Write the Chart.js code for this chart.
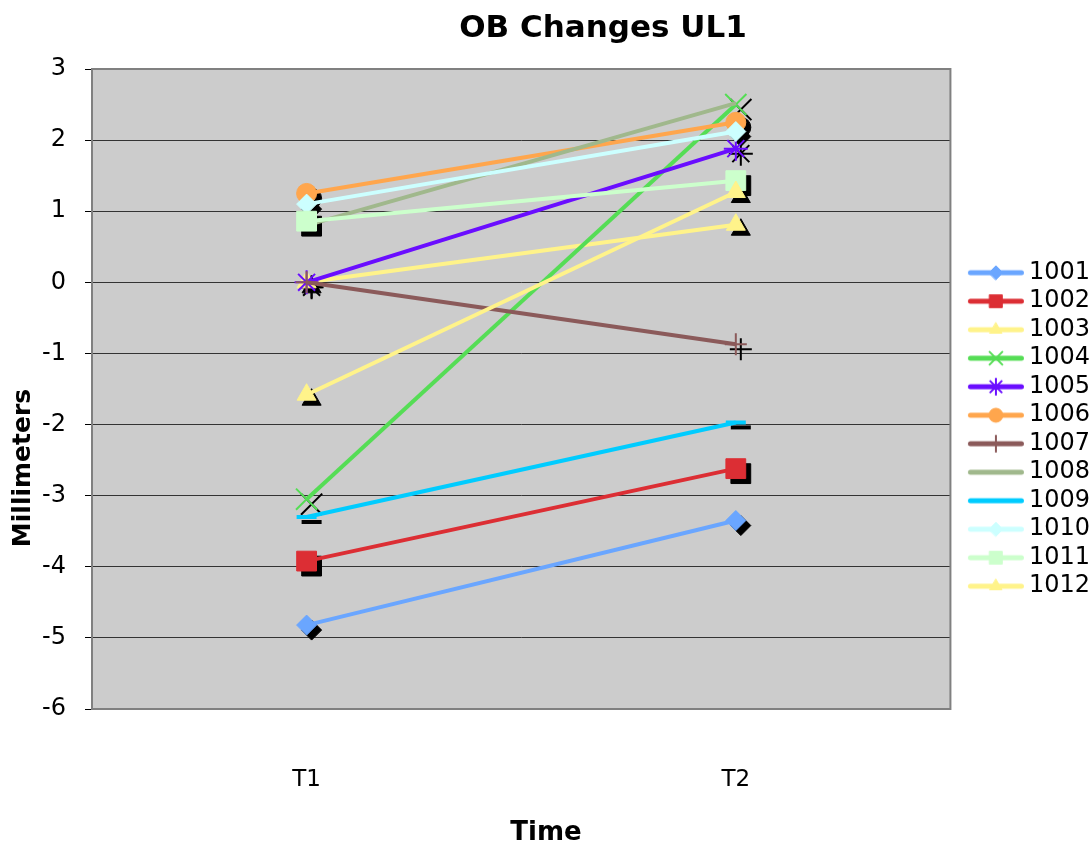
<!DOCTYPE html>
<html>
<head>
<meta charset="utf-8">
<script src="https://cdn.jsdelivr.net/npm/chart.js@4.4.1/dist/chart.umd.min.js"></script>
<style>
  html, body { margin: 0; padding: 0; background: #fff; }
  #wrap { width: 1092px; height: 846px; }
</style>
</head>
<body>
<div id="wrap"><canvas id="myChart" width="1092" height="846"></canvas></div>
<script>
// values
var categories = ['T1', 'T2'];
var s1001 = [-4.82, -3.35];
var s1002 = [-3.92, -2.62];
var s1003 = [0, 0.81];
var s1004 = [-3.05, 2.5];
var s1005 = [0, 1.88];
var s1006 = [1.25, 2.25];
var s1007 = [0, -0.87];
var s1008 = [0.8, 2.52];
var s1009 = [-3.3, -1.97];
var s1010 = [1.1, 2.12];
var s1011 = [0.86, 1.43];
var s1012 = [-1.58, 1.27];

var seriesNames = ['1001','1002','1003','1004','1005','1006','1007','1008','1009','1010','1011','1012'];
var seriesData = [s1001,s1002,s1003,s1004,s1005,s1006,s1007,s1008,s1009,s1010,s1011,s1012];
var seriesColors = ['#6AA6FF','#DC2E34','#FFF38A','#55DD55','#6A0DFF','#FFA64D',
                    '#8B5A5A','#A0B88C','#00CCFF','#CCFFFF','#CCFFCC','#FFF38A'];
var markerStyles = ['rectRot','rect','triangle','crossRot','star','circle',
                    'cross',false,'line','rectRot','rect','triangle'];
var markerSizes = [10, 14, 11, 15, 12, 10, 11, 0, 10, 10, 14, 11];
var legendSizes = [7, 9, 7, 9, 8, 7, 8, 0, 0, 7, 9, 7];

var FONT = '"DejaVu Sans", Verdana, sans-serif';

function drawMarker(ctx, style, r, x, y, bw)
{
    if (!style || !r) return;
    Chart.helpers.drawPoint(ctx, {pointStyle: style, radius: r, rotation: 0, borderWidth: bw}, x, y);
}

function isOpen(style)
{
    return style == 'cross' || style == 'crossRot' || style == 'star' || style == 'line';
}

// line + marker sample for the legend (wider than the box so it sits left of it)
function legendImg(i)
{
    var c = document.createElement('canvas');
    c.width = 80; c.height = 22;
    var g = c.getContext('2d');
    g.strokeStyle = seriesColors[i];
    g.fillStyle = seriesColors[i];
    g.lineWidth = 5;
    g.lineCap = 'round';
    g.beginPath();
    g.moveTo(24.5, 11);
    g.lineTo(75.5, 11);
    g.stroke();
    g.lineWidth = isOpen(markerStyles[i]) ? 2 : 1;
    drawMarker(g, markerStyles[i], legendSizes[i], 50, 11, g.lineWidth);
    return c;
}

var datasets = seriesNames.map(function(name, i) {
    var open = isOpen(markerStyles[i]);
    return {
        label: name,
        data: seriesData[i],
        borderColor: seriesColors[i],
        backgroundColor: seriesColors[i],
        borderWidth: 4,
        pointStyle: markerStyles[i],
        pointRadius: markerSizes[i],
        pointHoverRadius: markerSizes[i],
        pointBackgroundColor: seriesColors[i],
        pointBorderColor: seriesColors[i],
        pointBorderWidth: open ? (markerStyles[i] == 'line' ? 4 : 2) : 1,
        order: -i
    };
});

var plotBack = {
    id: 'plotBack',
    beforeDraw: function(chart) {
        var a = chart.chartArea, ctx = chart.ctx;
        ctx.save();
        ctx.fillStyle = '#CCCCCC';
        ctx.fillRect(a.left, a.top, a.right - a.left, a.bottom - a.top);
        ctx.restore();
    },
    beforeDatasetsDraw: function(chart) {
        var a = chart.chartArea, ctx = chart.ctx;
        ctx.save();
        ctx.strokeStyle = '#808080';
        ctx.lineWidth = 2;
        ctx.strokeRect(a.left, a.top, a.right - a.left, a.bottom - a.top);
        ctx.restore();
        // black drop shadows behind the markers
        chart.data.datasets.forEach(function(ds, i) {
            if (!ds.pointStyle || !ds.pointRadius) return;
            chart.getDatasetMeta(i).data.forEach(function(pt) {
                ctx.save();
                ctx.fillStyle = '#000';
                ctx.strokeStyle = '#000';
                ctx.lineWidth = ds.pointBorderWidth;
                drawMarker(ctx, ds.pointStyle, ds.pointRadius, pt.x + 5, pt.y + 5, ds.pointBorderWidth);
                ctx.restore();
            });
        });
    },
    afterDraw: function(chart) {
        var ctx = chart.ctx;
        ctx.save();
        ctx.fillStyle = '#000';
        ctx.textAlign = 'center';
        ctx.textBaseline = 'middle';
        ctx.font = 'bold 31px ' + FONT;
        ctx.fillText('OB Changes UL1', 603, 29);
        ctx.font = 'bold 26px ' + FONT;
        ctx.fillText('Time', 546, 833);
        ctx.translate(23, 468);
        ctx.rotate(-Math.PI / 2);
        ctx.font = 'bold 25px ' + FONT;
        ctx.fillText('Millimeters', 0, 0);
        ctx.restore();
    }
};

const ctx = document.getElementById('myChart').getContext('2d');
const myChart = new Chart(ctx, {
    type: 'line',
    data: {
        labels: categories,
        datasets: datasets
    },
    plugins: [plotBack],
    options: {
        responsive: false,
        animation: false,
        layout: {
            padding: {top: 69, right: -8, bottom: 0, left: 0}
        },
        plugins: {
            title: {display: false},
            tooltip: {enabled: false},
            legend: {
                position: 'right',
                align: 'start',
                title: {display: true, text: ' ', font: {size: 1}, padding: {top: 186, bottom: 0}},
                labels: {
                    color: '#000',
                    font: {family: FONT, size: 24},
                    usePointStyle: true,
                    pointStyleWidth: 62,
                    boxHeight: 22,
                    padding: 4.5,
                    generateLabels: function(chart) {
                        return chart.data.datasets.map(function(ds, i) {
                            return {
                                text: ds.label,
                                pointStyle: legendImg(i),
                                datasetIndex: i,
                                hidden: false,
                                fontColor: '#000',
                                lineWidth: 0,
                                strokeStyle: 'rgba(0,0,0,0)',
                                fillStyle: 'rgba(0,0,0,0)'
                            };
                        });
                    }
                }
            }
        },
        scales: {
            x: {
                offset: true,
                grid: {display: false, drawTicks: false},
                border: {display: true, color: '#808080', width: 2},
                ticks: {color: '#000', font: {family: FONT, size: 23}, padding: 57},
                afterFit: function(s) { s.height = 137; }
            },
            y: {
                min: -6,
                max: 3,
                ticks: {stepSize: 1, color: '#000', font: {family: FONT, size: 24}, padding: 19},
                grid: {color: '#333333', lineWidth: 1, tickLength: 7, tickColor: '#000'},
                border: {display: true, color: '#000', width: 1},
                afterFit: function(s) { s.width = 92; }
            }
        }
    }
});
</script>
</body>
</html>
